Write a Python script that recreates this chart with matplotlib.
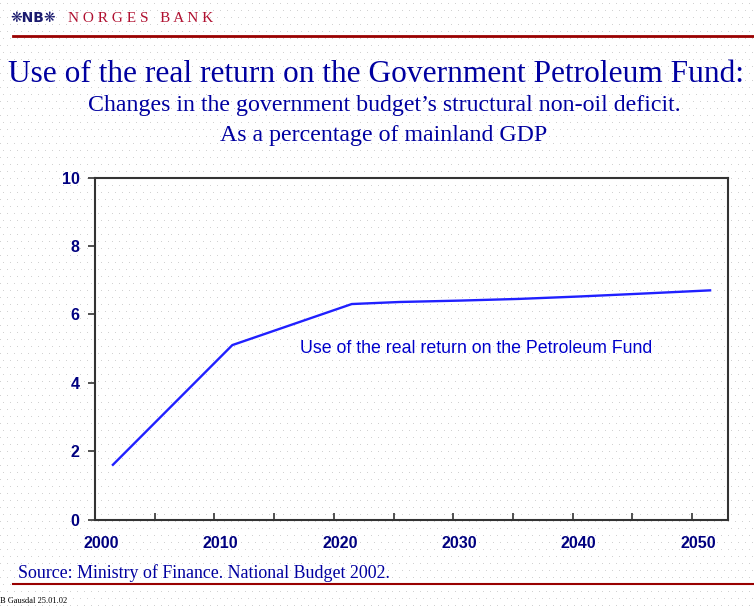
import numpy as np
import matplotlib.pyplot as plt
from matplotlib.ticker import FixedLocator

years = [2001, 2011, 2021, 2025, 2030, 2035, 2040, 2045, 2051]
values = [1.6, 5.1, 6.3, 6.36, 6.4, 6.45, 6.52, 6.6, 6.7]
label_years = [2000, 2010, 2020, 2030, 2040, 2050]
y_ticks = [0, 2, 4, 6, 8, 10]

navy = '#000080'
title_blue = '#0000a0'

fig = plt.figure(figsize=(7.54, 6.08), dpi=100)
fig.patch.set_facecolor('white')

# dotted slide background
W, H = 754, 608
bg = np.ones((H, W, 3))
for r in range(3, H, 7):
    off = 3 if (r // 7) % 2 else 0
    bg[r, off::7] = 0.82
fig.figimage(bg, 0, 0, zorder=-10)

ax = fig.add_axes([95 / W, 1 - 519.5 / H, 633 / W, 342 / H])
ax.set_facecolor('none')
ax.plot(years, values, color='#2020ff', linewidth=1.7)

ax.set_xlim(1999.5, 2052.5)
ax.set_ylim(0, 10)
ax.set_xticks(label_years)
ax.xaxis.set_minor_locator(FixedLocator(np.arange(2004.5, 2052, 5)))
ax.tick_params(axis='x', which='major', length=0, pad=12)
ax.tick_params(axis='x', which='minor', length=5, direction='in', width=1.2, color='#333333')
ax.set_yticks(y_ticks)
ax.tick_params(axis='y', length=5, direction='out', width=1.2, color='#333333', pad=6)
for lab in ax.get_xticklabels() + ax.get_yticklabels():
    lab.set_fontfamily('Liberation Sans')
    lab.set_fontweight('bold')
    lab.set_fontsize(11.5)
    lab.set_color(navy)
for s in ax.spines.values():
    s.set_color('#333333')
    s.set_linewidth(1.5)

ax.text(0.324, 0.5, 'Use of the real return on the Petroleum Fund', transform=ax.transAxes,
        fontsize=12.8, color='#0000cc', family='Liberation Sans', va='center')

# header
fig.text(10 / W, 1 - 18 / H, '❋NB❋', fontsize=10, color='#1a1a6e', va='center',
         family='DejaVu Sans', fontweight='bold')
fig.text(68 / W, 1 - 18 / H, 'N O R G E S   B A N K', fontsize=11, color='#b01030',
         va='center', family='Liberation Serif')
fig.add_artist(plt.Line2D([13 / W, 1], [1 - 36 / H] * 2, color='#990000', linewidth=2))

fig.text(8 / W, 1 - 75 / H, 'Use of the real return on the Government Petroleum Fund:',
         fontsize=22.6, color=title_blue, family='Liberation Serif', va='center')
fig.text(384 / W, 1 - 106 / H, 'Changes in the government budget\u2019s structural non-oil deficit.',
         fontsize=17.2, color=title_blue, family='Liberation Serif', va='center', ha='center')
fig.text(384 / W, 1 - 136 / H, 'As a percentage of mainland GDP',
         fontsize=17.2, color=title_blue, family='Liberation Serif', va='center', ha='center')

fig.text(18 / W, 1 - 573 / H, 'Source: Ministry of Finance. National Budget 2002.',
         fontsize=12.9, color=title_blue, family='Liberation Serif', va='center')
fig.add_artist(plt.Line2D([13 / W, 1], [1 - 584 / H] * 2, color='#990000', linewidth=1.5))
fig.text(0, 1 - 601 / H, 'B Gausdal 25.01.02', fontsize=6, color='black',
         family='Liberation Serif', va='center')

fig.savefig('out.png', dpi=100)
